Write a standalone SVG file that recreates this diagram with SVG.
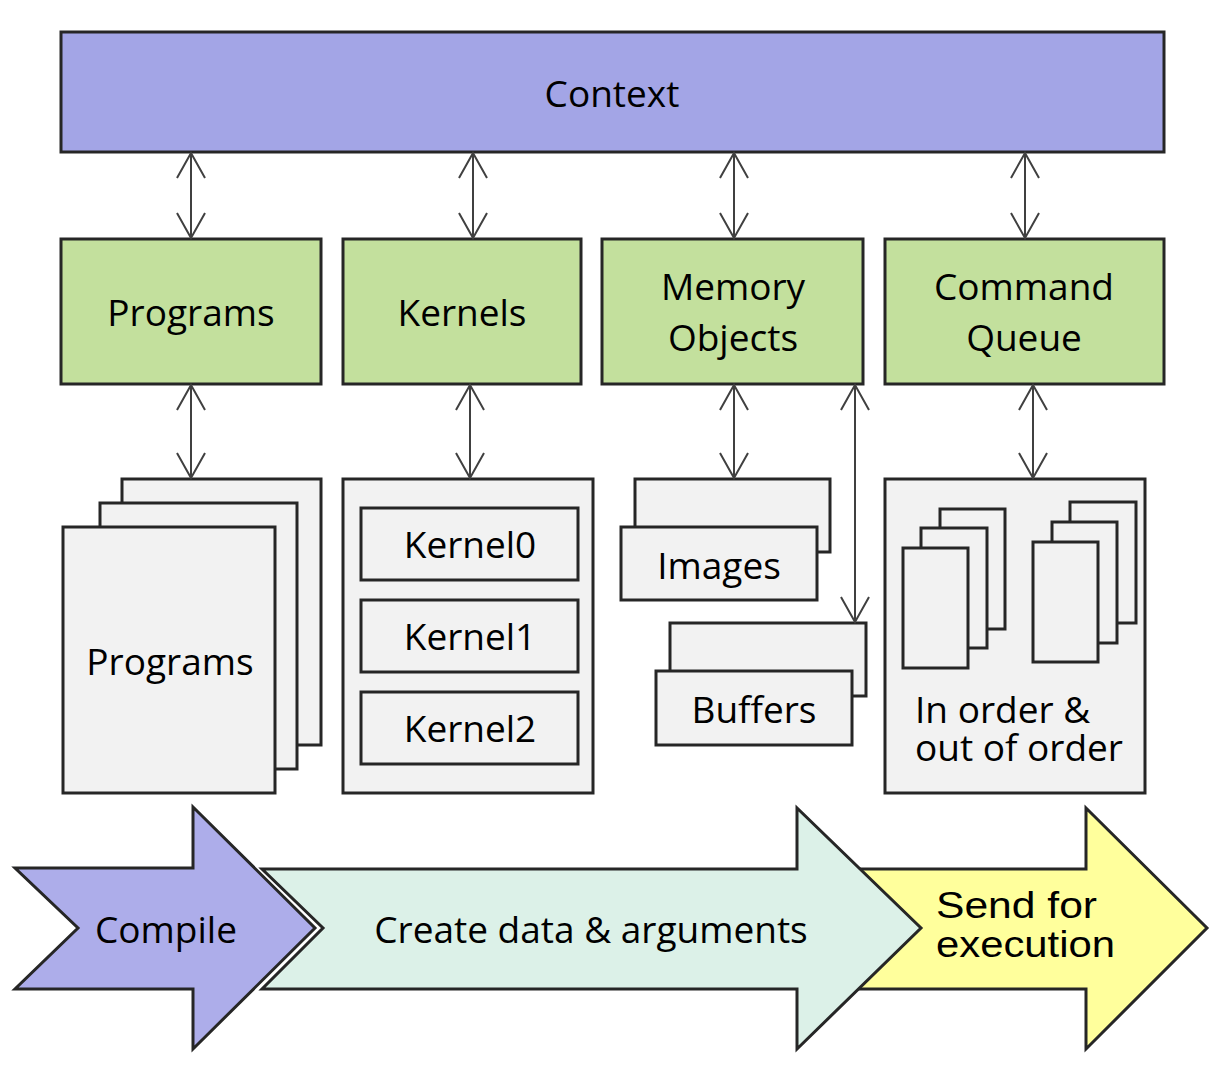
<svg xmlns="http://www.w3.org/2000/svg" width="1216" height="1078" viewBox="0 0 1216 1078">
<style>
.box{stroke:#262626;stroke-width:3;}
.ctx{fill:#a3a5e6;}
.grn{fill:#c3e09d;}
.gry{fill:#f2f2f2;}
.t{font-family:"Open Sans","Noto Sans",sans-serif;font-size:37px;fill:#000;text-anchor:middle;}
.tl{font-family:"Open Sans","Noto Sans",sans-serif;font-size:37px;fill:#000;}
.ta{font-family:"Liberation Sans",Arial,sans-serif;font-size:37px;fill:#000;}
.con{stroke:#404040;stroke-width:2;fill:none;marker-start:url(#ah);marker-end:url(#ah);}
</style>
<defs>
<marker id="ah" viewBox="-27 -16 29 32" refX="0" refY="0" markerWidth="29" markerHeight="32" markerUnits="userSpaceOnUse" orient="auto-start-reverse">
<path d="M-25,-14 L0,0 L-25,14" fill="none" stroke="#404040" stroke-width="2"/>
</marker>
</defs>
<rect width="1216" height="1078" fill="#fff"/>

<g id="context">
<rect class="box ctx" x="61" y="32" width="1103" height="120"/>
<text class="t" x="612" y="107">Context</text>
</g>

<g id="programs">
<rect class="box grn" x="61" y="239" width="260" height="145"/>
<text class="t" x="191" y="326">Programs</text>
</g>
<g id="kernels">
<rect class="box grn" x="343" y="239" width="238" height="145"/>
<text class="t" x="462" y="326">Kernels</text>
</g>
<g id="memory-objects">
<rect class="box grn" x="602" y="239" width="261" height="145"/>
<text class="t" x="733" y="300">Memory</text>
<text class="t" x="733" y="351">Objects</text>
</g>
<g id="command-queue">
<rect class="box grn" x="885" y="239" width="279" height="145"/>
<text class="t" x="1024" y="300">Command</text>
<text class="t" x="1024" y="351">Queue</text>
</g>

<g id="programs-stack">
<rect class="box gry" x="122" y="479" width="199" height="266"/>
<rect class="box gry" x="100" y="503" width="197" height="266"/>
<rect class="box gry" x="63" y="527" width="212" height="266"/>
<text class="t" x="170" y="675">Programs</text>
</g>

<g id="kernel-list">
<rect class="box gry" x="343" y="479" width="250" height="314"/>
<rect class="box gry" x="361" y="508" width="217" height="72"/>
<text class="t" x="470" y="558">Kernel0</text>
<rect class="box gry" x="361" y="600" width="217" height="72"/>
<text class="t" x="470" y="650">Kernel1</text>
<rect class="box gry" x="361" y="692" width="217" height="72"/>
<text class="t" x="470" y="742">Kernel2</text>
</g>

<g id="images">
<rect class="box gry" x="635" y="479" width="195" height="73"/>
<rect class="box gry" x="621" y="527" width="196" height="73"/>
<text class="t" x="719" y="579">Images</text>
</g>

<g id="buffers">
<rect class="box gry" x="670" y="623" width="196" height="73"/>
<rect class="box gry" x="656" y="671" width="196" height="74"/>
<text class="t" x="754" y="723">Buffers</text>
</g>

<g id="queues">
<rect class="box gry" x="885" y="479" width="260" height="314"/>
<rect class="box gry" x="940" y="509" width="65" height="120"/>
<rect class="box gry" x="921" y="528" width="66" height="120"/>
<rect class="box gry" x="903" y="548" width="65" height="120"/>
<rect class="box gry" x="1070" y="502" width="66" height="121"/>
<rect class="box gry" x="1052" y="522" width="65" height="121"/>
<rect class="box gry" x="1033" y="542" width="65" height="120"/>
<text class="tl"><tspan x="915" y="723">In order &amp;</tspan><tspan x="915" y="761">out of order</tspan></text>
</g>

<g id="connectors">
<line class="con" x1="191" y1="153" x2="191" y2="238"/>
<line class="con" x1="473" y1="153" x2="473" y2="238"/>
<line class="con" x1="734" y1="153" x2="734" y2="238"/>
<line class="con" x1="1025" y1="153" x2="1025" y2="238"/>
<line class="con" x1="191" y1="385" x2="191" y2="478"/>
<line class="con" x1="470" y1="385" x2="470" y2="478"/>
<line class="con" x1="734" y1="385" x2="734" y2="478"/>
<line class="con" x1="855" y1="385" x2="855" y2="622"/>
<line class="con" x1="1033" y1="385" x2="1033" y2="478"/>
</g>

<g id="send-for-execution">
<polygon class="box" fill="#ffff9c" points="855,869 1086,869 1086,808 1207,928 1086,1049 1086,989 855,989 915,928"/>
<text class="ta"><tspan x="936" y="918" textLength="161" lengthAdjust="spacingAndGlyphs">Send for</tspan><tspan x="936" y="957" textLength="179" lengthAdjust="spacingAndGlyphs">execution</tspan></text>
</g>
<g id="create-data">
<polygon class="box" fill="#dcf1e8" points="262,869 797,869 797,808 921,928 797,1049 797,989 262,989 323,928"/>
<text class="t" x="591" y="943">Create data &amp; arguments</text>
</g>
<g id="compile">
<polygon class="box" fill="#adadea" points="15,868 193,868 193,807 315,928 193,1049 193,989 15,989 78,928"/>
<text class="t" x="166" y="943">Compile</text>
</g>
</svg>
